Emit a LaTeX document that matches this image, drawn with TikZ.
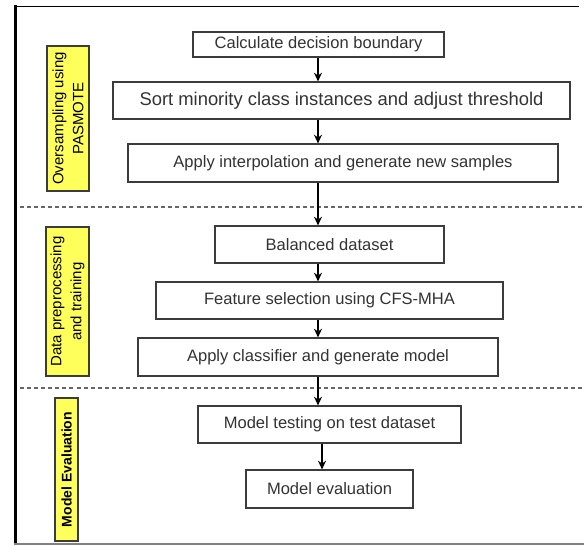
\documentclass[tikz,border=0pt]{standalone}
\usepackage{fontspec}
\setmainfont{Liberation Sans}
\usetikzlibrary{arrows.meta}
\definecolor{txtgray}{HTML}{333333}
\definecolor{boxgray}{HTML}{3C3C3C}
\definecolor{phaseyellow}{HTML}{FFFF5C}
\tikzset{
  procbox/.style={draw=boxgray, line width=0.9pt, fill=white, text=txtgray, inner sep=0pt,
    font=\fontsize{12.4}{14}\selectfont},
  phasebox/.style={draw=boxgray, line width=0.8pt, fill=phaseyellow, text=black, inner sep=0pt,
    rotate=90, align=center, font=\fontsize{11.25}{15}\selectfont},
  flow/.style={-{Stealth[length=6.5pt,width=6pt]}, line width=0.9pt, black},
  divider/.style={draw=gray!80!black, line width=0.8pt, dash pattern=on 3pt off 2.3pt}
}

\begin{document}
\begin{tikzpicture}[x=0.75pt,y=0.75pt,yscale=-1,xscale=1]
\useasboundingbox (0,0) rectangle (584,545);

%Frame
\draw [line width=2.6pt, black] (15.5,5.5) -- (15.5,545);
\draw [line width=0.9pt, black] (14,6.5) -- (579,6.5);
\draw [line width=0.8pt, gray] (14,544) -- (584,544);

%Dashed dividers
\draw [divider] (20,207) -- (584,207);
\draw [divider] (20,388) -- (584,388);

%Phase labels
\node [phasebox, minimum width=145*0.75pt, minimum height=42*0.75pt] (oversampling) at (68,118.5)
  {Oversampling using\\PASMOTE};
\node [phasebox, minimum width=149*0.75pt, minimum height=43*0.75pt] (preprocessing) at (67.5,301.5)
  {Data preprocessing\\and training};
\node [phasebox, minimum width=143*0.75pt, minimum height=23*0.75pt, font=\fontsize{10.5}{12}\bfseries] (evaluation) at (66.5,469.5)
  {Model Evaluation};

%Process boxes
\node [procbox, minimum width=251*0.75pt, minimum height=25*0.75pt] (boundary) at (318.5,44.5)
  {Calculate decision boundary};
\node [procbox, minimum width=457*0.75pt, minimum height=37*0.75pt, font=\fontsize{13.8}{16}\selectfont] (sortmin) at (341.5,100.5)
  {Sort minority class instances and adjust threshold};
\node [procbox, minimum width=430*0.75pt, minimum height=38*0.75pt] (interp) at (343,163)
  {Apply interpolation and generate new samples};
\node [procbox, minimum width=229*0.75pt, minimum height=37*0.75pt] (balanced) at (329.5,244.5)
  {Balanced dataset};
\node [procbox, minimum width=347*0.75pt, minimum height=37*0.75pt] (featsel) at (329.5,300.5)
  {Feature selection using CFS-MHA};
\node [procbox, minimum width=360*0.75pt, minimum height=38*0.75pt] (classifier) at (318,357)
  {Apply classifier and generate model};
\node [procbox, minimum width=263*0.75pt, minimum height=37*0.75pt] (testing) at (329.5,424.5)
  {Model testing on test dataset};
\node [procbox, minimum width=167*0.75pt, minimum height=38*0.75pt] (modeleval) at (329.5,489)
  {Model evaluation};

%Arrows
\coordinate (spine) at (318,0);
\coordinate (spineb) at (322,0);
\draw [flow] (boundary.south -| spine) -- (sortmin.north -| spine);
\draw [flow] (sortmin.south -| spine) -- (interp.north -| spine);
\draw [flow] (interp.south -| spine) -- (balanced.north -| spine);
\draw [flow] (balanced.south -| spine) -- (featsel.north -| spine);
\draw [flow] (featsel.south -| spine) -- (classifier.north -| spine);
\draw [flow] (classifier.south -| spine) -- (testing.north -| spine);
\draw [flow] (testing.south -| spineb) -- (modeleval.north -| spineb);

\end{tikzpicture}
\end{document}
